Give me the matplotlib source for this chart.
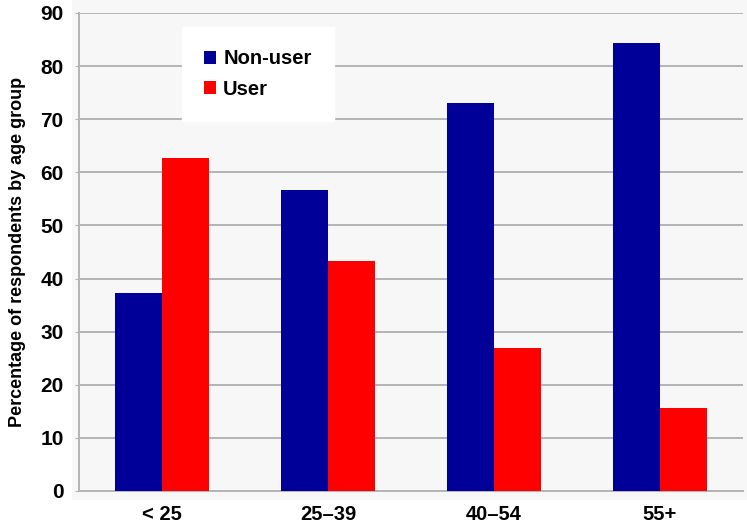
import matplotlib.pyplot as plt
import numpy as np
from matplotlib.patches import Rectangle

age_groups = ['< 25', '25–39', '40–54', '55+']
non_user = [37.3, 56.7, 73.0, 84.4]
user = [62.7, 43.3, 27.0, 15.6]

plt.rcParams['font.family'] = ['Liberation Sans', 'DejaVu Sans']

fig = plt.figure(figsize=(7.47, 5.27), dpi=100)
# light panel behind the plot area
fig.patches.append(Rectangle((72 / 747, 27 / 527), 1, 1, transform=fig.transFigure,
                             facecolor='#f7f7f7', edgecolor='none', zorder=-1))
ax = fig.add_axes([79 / 747, 36 / 527, 664 / 747, 478 / 527])
ax.set_facecolor('#f7f7f7')

x = np.arange(len(age_groups))
w = 0.283
ax.bar(x - w / 2, non_user, w, color='#000099', label='Non-user', zorder=3)
ax.bar(x + w / 2, user, w, color='#ff0000', label='User', zorder=3)

ax.set_xlim(-0.5, 3.5)
ax.set_ylim(0, 90)
ax.set_yticks(range(0, 91, 10))
ax.grid(axis='y', color='#b4b4b4', linewidth=1.4, zorder=1)
ax.set_xticks(x)
ax.set_xticklabels(age_groups, fontsize=14.5, fontweight='bold')
ax.tick_params(axis='y', labelsize=15, length=3, color='#b4b4b4', pad=8)
ax.tick_params(axis='x', length=0, pad=10)
for lab in ax.get_yticklabels():
    lab.set_fontweight('bold')

for side in ['top', 'right']:
    ax.spines[side].set_visible(False)
for side in ['left', 'bottom']:
    ax.spines[side].set_color('#b4b4b4')
    ax.spines[side].set_linewidth(1.4)

ax.set_ylabel('Percentage of respondents by age group', fontsize=13,
              fontweight='bold', labelpad=10)

leg = ax.legend(loc='upper left', bbox_to_anchor=(0.155, 0.97), fontsize=14.5,
                frameon=True, fancybox=False, edgecolor='white', facecolor='white',
                framealpha=1, handlelength=0.6, handleheight=0.6, handletextpad=0.35,
                borderpad=1.1, labelspacing=0.55, borderaxespad=0)
for t in leg.get_texts():
    t.set_fontweight('bold')
leg.set_zorder(4)

fig.savefig('out.png', dpi=100)
